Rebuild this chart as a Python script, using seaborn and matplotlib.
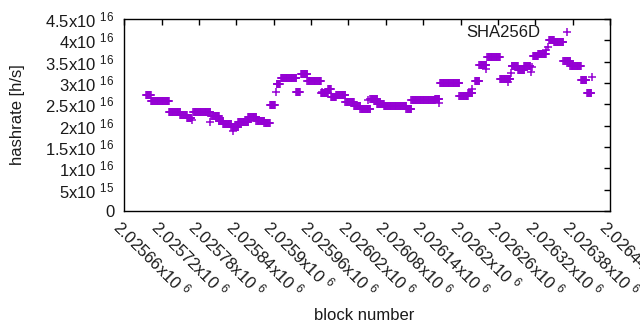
import numpy as np
import pandas as pd
import seaborn as sns
from matplotlib import pyplot as plt

# runs of blocks with the same hashrate (x1e16 h/s)
run_start = [2025695, 2025703, 2025732, 2025750, 2025761, 2025769, 2025771, 2025798, 2025800, 2025812,
             2025819, 2025832, 2025834, 2025843, 2025859, 2025872, 2025885, 2025894, 2025904, 2025905,
             2025912, 2025936, 2025944, 2025954, 2025978, 2025976, 2025987, 2025992, 2026000, 2026015,
             2026029, 2026039, 2026052, 2026055, 2026066, 2026077, 2026113, 2026121, 2026159, 2026166,
             2026167, 2026198, 2026212, 2026219, 2026223, 2026230, 2026241, 2026243, 2026263, 2026276,
             2026281, 2026282, 2026292, 2026302, 2026313, 2026315, 2026316, 2026324, 2026337, 2026341,
             2026342, 2026350, 2026371, 2026365, 2026376, 2026393, 2026411, 2026403]
run_end = [2025703, 2025732, 2025750, 2025761, 2025768, 2025769, 2025798, 2025798, 2025812, 2025819,
           2025832, 2025843, 2025834, 2025859, 2025872, 2025885, 2025894, 2025902, 2025904, 2025910,
           2025936, 2025942, 2025954, 2025976, 2025978, 2025987, 2025992, 2026000, 2026015, 2026029,
           2026039, 2026055, 2026052, 2026066, 2026077, 2026113, 2026121, 2026159, 2026166, 2026166,
           2026198, 2026212, 2026219, 2026219, 2026230, 2026241, 2026241, 2026263, 2026280, 2026276,
           2026281, 2026292, 2026302, 2026312, 2026313, 2026315, 2026324, 2026337, 2026337, 2026341,
           2026350, 2026365, 2026371, 2026376, 2026393, 2026402, 2026411, 2026410]
run_value = [2.72, 2.585, 2.31, 2.26, 2.19, 2.13, 2.31, 2.09, 2.22, 2.11,
             2.04, 1.97, 1.88, 2.09, 2.20, 2.11, 2.07, 2.48, 2.79, 2.98,
             3.11, 2.79, 3.21, 3.05, 2.79, 2.77, 2.86, 2.67, 2.72, 2.56,
             2.46, 2.39, 2.60, 2.63, 2.51, 2.46, 2.38, 2.60, 2.63, 2.53,
             2.99, 2.69, 2.77, 2.86, 3.05, 3.42, 3.33, 3.61, 3.09, 3.02,
             3.23, 3.40, 3.30, 3.40, 3.26, 3.37, 3.64, 3.67, 3.77, 3.84,
             4.00, 3.95, 4.20, 3.52, 3.41, 3.07, 3.14, 2.77]

xtick_vals = list(range(2025660, 2026441, 60))
ytick_vals = [0, 5e15, 1e16, 1.5e16, 2e16, 2.5e16, 3e16, 3.5e16, 4e16, 4.5e16]
ytick_labels = ['0', '5x10 $^{15}$', '1x10 $^{16}$', '1.5x10 $^{16}$', '2x10 $^{16}$',
                '2.5x10 $^{16}$', '3x10 $^{16}$', '3.5x10 $^{16}$', '4x10 $^{16}$', '4.5x10 $^{16}$']

blocks = []
rates = []
for s, e, v in zip(run_start, run_end, run_value):
    for b in range(s, e + 1):
        blocks.append(b)
        rates.append(v * 1e16)
df = pd.DataFrame({'block': blocks, 'hashrate': rates})

sns.set_style('white')
plt.rcParams['font.family'] = ['Liberation Sans', 'DejaVu Sans']
plt.rcParams['mathtext.fontset'] = 'custom'
plt.rcParams['mathtext.rm'] = 'Liberation Sans'
plt.rcParams['mathtext.default'] = 'rm'

fig = plt.figure(figsize=(6.4, 3.3), dpi=100)
ax = fig.add_axes([0.194, 0.3606, 0.7594, 0.5818])

sns.scatterplot(x='block', y='hashrate', data=df, marker='+', s=28, color='#9400d3',
                linewidth=1.1, ax=ax, legend=False)

ax.set_xlim(2025660, 2026440)
ax.set_ylim(0, 4.5e16)
ax.set_xticks(xtick_vals)
ax.set_xticklabels([f'{v / 1e6:g}x10 $^{{6}}$' for v in xtick_vals], rotation=-45,
                   ha='left', va='top', rotation_mode='anchor', fontsize=12)
ax.set_yticks(ytick_vals)
ax.set_yticklabels(ytick_labels, fontsize=12)
ax.tick_params(direction='in', length=4, width=1, top=True, right=True, colors='black',
               labelcolor='#1a1a1a')
ax.tick_params(axis='y', pad=7)
ax.tick_params(axis='x', pad=4)
for sp in ax.spines.values():
    sp.set_color('black')
    sp.set_linewidth(1)
ax.set_xlabel('')
ax.set_ylabel('')

ax.text(0.856, 0.932, 'SHA256D', transform=ax.transAxes, ha='right', va='center',
        fontsize=12, color='#1a1a1a')
fig.text(0.027, 0.652, 'hashrate [h/s]', rotation=90, ha='center', va='center',
         fontsize=12, color='#1a1a1a')
fig.text(0.569, 0.045, 'block number', ha='center', va='center', fontsize=12, color='#1a1a1a')

fig.savefig('out.png', dpi=100)
